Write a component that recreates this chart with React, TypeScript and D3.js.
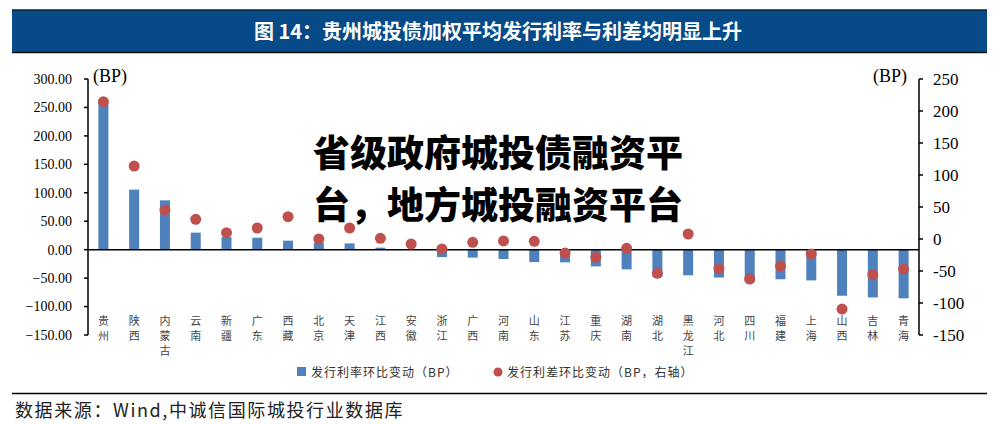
import React from "react";
import * as d3 from "d3";

const categories = ["贵州","陕西","内蒙古","云南","新疆","广东","西藏","北京","天津","江西","安徽","浙江","广西","河南","山东","江苏","重庆","湖南","湖北","黑龙江","河北","四川","福建","上海","山西","吉林","青海"];
const rateChange = [257,105.5,86.7,29.9,22,21,15.8,12,11,3.5,1,-13,-14,-16.5,-21.8,-22.3,-29.4,-34.6,-48,-45,-49,-57,-52,-54,-81,-84,-85.5];
const spreadChange = [214.5,114,45.3,30.7,9.9,17.2,34.9,0,17.2,1,-7.8,-15.6,-5.2,-3.1,-3.6,-21.9,-28.6,-14.6,-53.6,7.8,-46.4,-62.5,-42.2,-23.4,-109.4,-55.8,-46.9];
const leftTicks = [300,250,200,150,100,50,0,-50,-100,-150];
const rightTicks = [250,200,150,100,50,0,-50,-100,-150];
const titleText = "图 14：贵州城投债加权平均发行利率与利差均明显上升";
const overlayLines = ["省级政府城投债融资平", "台，地方城投融资平台"];
const legendLabels = ["发行利率环比变动（BP）", "发行利差环比变动（BP，右轴）"];
const sourceText = "数据来源：Wind,中诚信国际城投行业数据库";

const W = 993, H = 424;
const left = 88, right = 919, top = 79, bottom = 335;
const BLUE = "#4F81BD", RED = "#C0504D";
const CJK = "'Noto Sans CJK SC', 'Noto Sans', sans-serif";
const SERIF = "'Liberation Serif', 'DejaVu Serif', serif";

export default function App() {
  const x = d3.scaleBand<string>().domain(categories).range([left, right]).paddingInner(0.675).paddingOuter(0.3375);
  const yL = d3.scaleLinear().domain([-150, 300]).range([bottom, top]);
  const yR = d3.scaleLinear().domain([-150, 250]).range([bottom, top]);
  const fmt = d3.format(".2f");
  const bw = x.bandwidth();
  const cx = (c: string) => (x(c) as number) + bw / 2;

  return (
    <svg width={W} height={H} style={{ position: "absolute", left: 0, top: 0, background: "#fff" }}>
      {/* title bar */}
      <rect x={12} y={9.5} width={975} height={43} fill="#074A88" />
      <line x1={12} x2={987} y1={10} y2={10} stroke="#111" strokeWidth={1} />
      <line x1={12} x2={987} y1={52.5} y2={52.5} stroke="#111" strokeWidth={1.5} />
      <text x={498} y={38.5} textAnchor="middle" fill="#fff" fontFamily={CJK} fontWeight={700} fontSize={20}>{titleText}</text>

      {/* bars */}
      {categories.map((c, i) => {
        const v = rateChange[i];
        const y0 = yL(Math.max(0, v)), y1 = yL(Math.min(0, v));
        return <rect key={c} x={x(c)} y={y0} width={bw} height={y1 - y0} fill={BLUE} />;
      })}

      {/* zero line */}
      <line x1={left} x2={right} y1={yL(0)} y2={yL(0)} stroke="#000" strokeWidth={1.5} />

      {/* left axis */}
      <line x1={left} x2={left} y1={top} y2={bottom} stroke="#000" strokeWidth={1.5} />
      {leftTicks.map(t => (
        <g key={"l" + t}>
          <line x1={left - 4} x2={left} y1={yL(t)} y2={yL(t)} stroke="#000" strokeWidth={1.5} />
          <text x={72} y={yL(t)} dy="0.35em" textAnchor="end" fontFamily={SERIF} fontSize={14} fill="#000">{fmt(t)}</text>
        </g>
      ))}
      <text x={93} y={82} fontFamily={SERIF} fontSize={18} fill="#000">(BP)</text>

      {/* right axis */}
      <line x1={right} x2={right} y1={top} y2={bottom} stroke="#000" strokeWidth={1.5} />
      {rightTicks.map(t => (
        <g key={"r" + t}>
          <line x1={right} x2={right + 4} y1={yR(t)} y2={yR(t)} stroke="#000" strokeWidth={1.5} />
          <text x={933} y={yR(t)} dy="0.35em" textAnchor="start" fontFamily={SERIF} fontSize={17} fill="#000">{t}</text>
        </g>
      ))}
      <text x={907} y={82} textAnchor="end" fontFamily={SERIF} fontSize={18} fill="#000">(BP)</text>

      {/* dots */}
      {categories.map((c, i) => (
        <circle key={"d" + c} cx={cx(c)} cy={yR(spreadChange[i])} r={5.5} fill={RED} />
      ))}

      {/* category labels */}
      {categories.map(c => (
        <text key={"c" + c} x={cx(c)} y={325} textAnchor="middle" fontFamily={CJK} fontSize={11} fill="#444">
          {Array.from(c).map((ch, k) => (
            <tspan key={k} x={cx(c)} y={325 + k * 15}>{ch}</tspan>
          ))}
        </text>
      ))}

      {/* legend */}
      <rect x={297} y={367} width={9} height={9} fill={BLUE} />
      <text x={311} y={376.5} fontFamily={CJK} fontSize={12} letterSpacing={1} fill="#333">{legendLabels[0]}</text>
      <circle cx={498} cy={372} r={4.5} fill={RED} />
      <text x={507} y={376.5} fontFamily={CJK} fontSize={12} letterSpacing={1} fill="#333">{legendLabels[1]}</text>

      {/* overlay */}
      {overlayLines.map((l, i) => (
        <text key={"o" + i} x={313} y={167 + i * 52} fontFamily={CJK} fontWeight={900} fontSize={37} fill="#000">{l}</text>
      ))}

      {/* footer */}
      <line x1={12} x2={987} y1={393.5} y2={393.5} stroke="#000" strokeWidth={1.5} />
      <text x={15} y={417} fontFamily={CJK} fontSize={18} letterSpacing={1.6} fill="#222">{sourceText}</text>
    </svg>
  );
}
